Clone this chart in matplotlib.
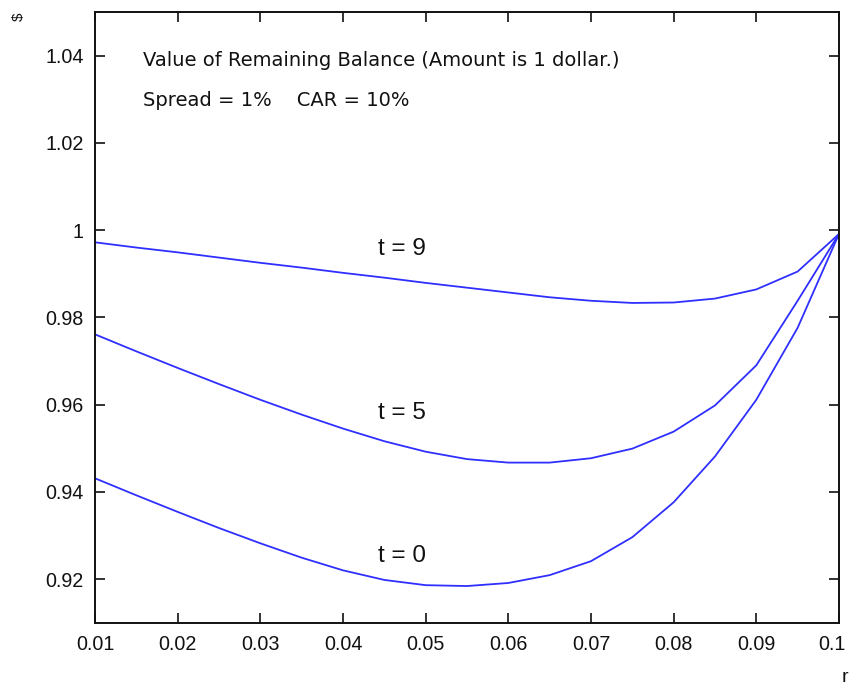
import matplotlib.pyplot as plt
from matplotlib.transforms import ScaledTranslation

# interest rate grid and remaining balance values
r = [0.010, 0.015, 0.020, 0.025, 0.030, 0.035, 0.040, 0.045, 0.050, 0.055,
     0.060, 0.065, 0.070, 0.075, 0.080, 0.085, 0.090, 0.095, 0.100]
t9 = [0.9972, 0.9960, 0.9949, 0.9937, 0.9925, 0.9914, 0.9902, 0.9891, 0.9879, 0.9868,
      0.9857, 0.9846, 0.9838, 0.9833, 0.9834, 0.9843, 0.9864, 0.9905, 0.9991]
t5 = [0.9761, 0.9722, 0.9684, 0.9647, 0.9611, 0.9577, 0.9545, 0.9516, 0.9492, 0.9475,
      0.9467, 0.9467, 0.9477, 0.9499, 0.9538, 0.9598, 0.9690, 0.9838, 0.9991]
t0 = [0.9431, 0.9392, 0.9354, 0.9317, 0.9282, 0.9249, 0.9220, 0.9198, 0.9186, 0.9184,
      0.9191, 0.9209, 0.9241, 0.9296, 0.9376, 0.9481, 0.9611, 0.9776, 0.9991]

curve_labels = ["t = 9", "t = 5", "t = 0"]
label_pos = [(0.0471, 0.9956), (0.0471, 0.9581), (0.0471, 0.9253)]

xticks = [0.01, 0.02, 0.03, 0.04, 0.05, 0.06, 0.07, 0.08, 0.09, 0.1]
xticklabels = ["0.01", "0.02", "0.03", "0.04", "0.05", "0.06", "0.07", "0.08", "0.09", "0.1"]
yticks = [0.92, 0.94, 0.96, 0.98, 1.00, 1.02, 1.04]
yticklabels = ["0.92", "0.94", "0.96", "0.98", "1", "1.02", "1.04"]

plt.rcParams["font.family"] = ["Liberation Sans", "DejaVu Sans"]

fig = plt.figure(figsize=(8.5, 6.86), dpi=100)
ax = fig.add_axes([0.1118, 0.0923, 0.8752, 0.8902])

line_color = "#2f2fff"
for ys in (t9, t5, t0):
    ax.plot(r, ys, color=line_color, linewidth=1.3)

for text, (x, y) in zip(curve_labels, label_pos):
    ax.text(x, y, text, fontsize=17.5, ha="center", va="center", color="#111111")

# the note lines are set in a wider face, like the original
ax.text(0.0158, 1.0389, "Value of Remaining Balance (Amount is 1 dollar.)",
        fontsize=14, family="DejaVu Sans", ha="left", va="center", color="#111111")
ax.text(0.0158, 1.0297, "Spread = 1%    CAR = 10%",
        fontsize=14, family="DejaVu Sans", ha="left", va="center", color="#111111")

ax.set_xlim(0.01, 0.1)
ax.set_ylim(0.91, 1.05)
ax.set_xticks(xticks)
ax.set_xticklabels(xticklabels)
ax.set_yticks(yticks)
ax.set_yticklabels(yticklabels)
ax.tick_params(direction="in", length=7, width=1.2, labelsize=14.2,
               top=True, right=True, colors="#111111")
ax.tick_params(axis="x", pad=9)
ax.tick_params(axis="y", pad=8)
for spine in ax.spines.values():
    spine.set_linewidth(1.4)
    spine.set_color("#111111")

# last x label sits right at the figure edge; nudge it in a little
last = ax.get_xticklabels()[-1]
last.set_transform(last.get_transform() + ScaledTranslation(-5 / 72, 0, fig.dpi_scale_trans))

fig.text(19 / 850, 1 - 17 / 686, "$", rotation=90, fontsize=11,
         ha="center", va="center", color="#111111")
fig.text(845 / 850, 1 - 677 / 686, "r", fontsize=14, ha="center", va="center",
         color="#111111")

fig.savefig("out.png", dpi=100)
plt.close(fig)
